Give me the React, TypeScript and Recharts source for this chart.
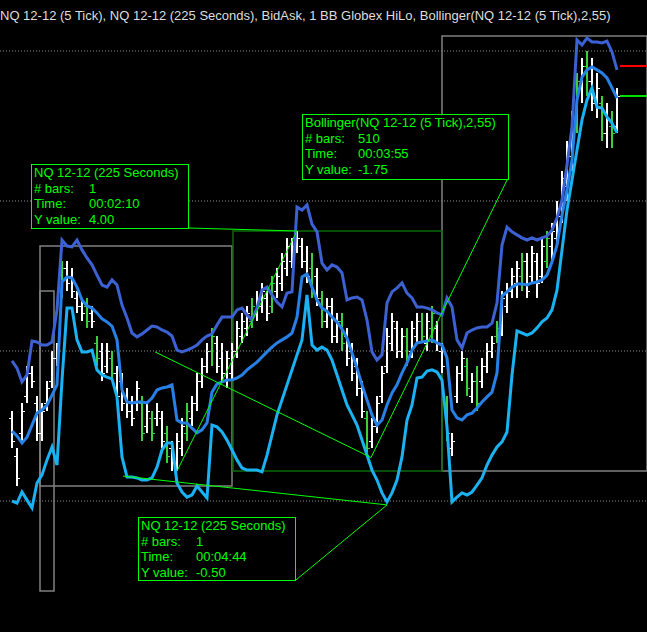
import React from "react";
import { Bar, ComposedChart, Line, ReferenceArea, ReferenceLine, XAxis, YAxis } from "recharts";

const W = 647;
const H = 632;

const TITLE =
  "NQ 12-12 (5 Tick), NQ 12-12 (225 Seconds), BidAsk, 1 BB Globex HiLo, Bollinger(NQ 12-12 (5 Tick),2,55)";

// prices are points above the 2640.00 grid line, one tick = 0.25
const highs = [
  3.0, 1.75, 3.25, 4.5, 4.5, 3.5, 3.25, 4.0, 5.0, 5.25,
  8.0, 8.0, 7.75, 7.0, 6.75, 6.75, 6.5, 5.5, 5.25, 5.25,
  5.0, 4.5, 4.25, 3.75, 3.5, 4.0, 3.5, 3.25, 3.0, 3.25,
  3.0, 2.5, 2.0, 2.25, 2.75, 3.25, 3.5, 4.25, 4.75, 5.25,
  5.75, 5.5, 5.25, 5.0, 5.25, 6.0, 6.25, 6.5, 6.75, 7.0,
  7.25, 7.0, 7.5, 7.75, 8.25, 8.75, 8.75, 9.0, 8.75, 8.5,
  8.25, 7.75, 7.0, 6.75, 6.75, 6.25, 6.25, 5.75, 5.25, 4.75,
  4.0, 3.0, 2.75, 3.5, 4.5, 5.75, 6.25, 6.0, 5.75, 5.75,
  6.0, 6.25, 6.25, 6.25, 6.5, 6.0, 5.25, 3.5, 2.25, 4.5,
  5.0, 4.75, 4.25, 4.5, 4.75, 5.25, 5.5, 6.0, 7.0, 7.25,
  7.75, 8.0, 8.25, 8.25, 8.5, 8.25, 8.75, 9.0, 9.25, 10.0,
  11.0, 12.0, 13.0, 14.25, 14.75, 15.0, 14.75, 14.25, 13.5, 13.25,
  13.0, 13.75,
];
const lows = [
  1.75, 0.5, 2.0, 3.25, 3.75, 2.0, 2.0, 3.0, 3.75, 4.5,
  6.75, 7.0, 6.75, 6.25, 6.0, 5.75, 5.75, 4.5, 4.0, 4.25,
  4.0, 3.25, 3.0, 2.75, 2.5, 3.0, 2.0, 2.25, 2.0, 2.5,
  1.75, 1.25, 1.0, 1.0, 1.5, 2.0, 2.5, 3.0, 3.75, 4.25,
  4.5, 4.25, 4.0, 3.75, 4.0, 4.75, 5.25, 5.5, 5.75, 6.0,
  6.25, 6.0, 6.25, 6.75, 7.0, 7.5, 7.75, 8.25, 7.75, 7.25,
  6.75, 6.5, 5.75, 5.75, 5.25, 5.25, 5.0, 4.5, 4.0, 3.5,
  2.75, 1.5, 1.75, 2.25, 3.25, 4.25, 5.0, 4.75, 4.75, 4.5,
  4.75, 5.25, 5.25, 5.0, 5.25, 5.0, 4.25, 2.0, 1.5, 3.25,
  4.0, 3.5, 3.25, 3.0, 3.75, 4.25, 4.75, 5.25, 5.5, 6.25,
  6.75, 6.75, 7.0, 6.75, 7.25, 6.75, 7.25, 7.75, 8.0, 8.5,
  9.25, 10.0, 11.0, 12.25, 13.25, 13.5, 13.0, 12.75, 12.0, 11.75,
  11.75, 12.25,
];
const opens = [
  2.75, 1.5, 2.25, 3.5, 4.25, 3.25, 2.25, 3.25, 4.0, 4.75,
  7.0, 7.75, 7.5, 6.75, 6.5, 6.5, 6.25, 5.25, 5.0, 4.5,
  4.75, 4.25, 4.0, 3.5, 3.0, 3.25, 3.25, 2.5, 2.75, 2.75,
  2.75, 2.25, 1.75, 1.25, 1.75, 2.25, 2.75, 3.25, 4.0, 4.5,
  5.0, 5.25, 4.75, 4.0, 4.25, 5.0, 5.5, 5.75, 6.0, 6.25,
  6.5, 6.75, 6.5, 7.0, 7.25, 7.75, 8.0, 8.5, 8.5, 8.0,
  7.75, 7.5, 6.75, 6.0, 6.5, 5.5, 6.0, 5.5, 5.0, 4.5,
  3.75, 2.75, 2.0, 2.5, 3.5, 4.5, 5.25, 5.75, 5.0, 5.5,
  5.0, 5.5, 6.0, 5.25, 5.75, 5.75, 5.0, 3.25, 1.75, 3.5,
  4.25, 4.5, 3.5, 4.0, 4.0, 4.5, 5.0, 5.5, 5.75, 6.5,
  7.0, 7.25, 7.5, 8.0, 7.5, 8.0, 7.5, 8.0, 8.5, 8.75,
  9.5, 10.5, 11.5, 12.5, 13.75, 14.5, 14.0, 13.25, 13.25, 12.25,
  12.5, 12.5,
];
const closes = [
  2.0, 0.75, 3.0, 4.25, 4.0, 2.25, 3.0, 3.75, 4.75, 5.0,
  7.75, 7.25, 7.0, 6.5, 6.25, 6.0, 6.0, 4.75, 4.25, 5.0,
  4.25, 3.5, 3.25, 3.0, 2.75, 3.75, 2.25, 3.0, 2.25, 3.0,
  2.0, 1.5, 1.25, 2.0, 2.5, 3.0, 3.25, 4.0, 4.5, 5.0,
  5.5, 4.5, 4.25, 4.75, 5.0, 5.75, 6.0, 6.25, 6.5, 6.75,
  7.0, 6.25, 7.25, 7.5, 8.0, 8.5, 8.5, 8.75, 8.0, 7.5,
  7.0, 6.75, 6.0, 6.5, 5.5, 6.0, 5.25, 4.75, 4.25, 3.75,
  3.0, 1.75, 2.5, 3.25, 4.25, 5.5, 6.0, 5.0, 5.5, 4.75,
  5.75, 6.0, 5.5, 6.0, 6.25, 5.25, 4.5, 2.25, 2.0, 4.25,
  4.75, 3.75, 4.0, 3.25, 4.5, 5.0, 5.25, 5.75, 6.75, 7.0,
  7.5, 7.75, 8.0, 7.0, 8.25, 7.25, 8.5, 8.75, 9.0, 9.75,
  10.75, 11.75, 12.75, 14.0, 14.5, 14.0, 13.25, 13.75, 12.25, 12.75,
  12.25, 13.5,
];
// bars painted by the BidAsk study
const greenBars = [10, 15, 17, 20, 26, 28, 31, 35, 40, 48, 52, 60, 62, 66, 71, 79, 82, 84, 87, 91, 93, 97, 102, 107, 113, 115, 118, 120];

// Bollinger(55, 2) per 5-tick bar
const bbUpper = [
  4.67, 4.43, 3.97, 4.2, 5.33, 5.3, 5.2, 5.2, 5.3, 6.37,
  8.7, 8.5, 8.47, 8.7, 8.37, 8.1, 7.87, 7.53, 7.2, 7.13,
  7.37, 7.2, 6.53, 6.1, 5.6, 5.47, 5.57, 5.7, 5.83, 5.8,
  5.7, 5.63, 5.5, 5.03, 4.97, 5.03, 5.1, 5.2, 5.37, 5.5,
  5.57, 5.87, 6.13, 6.13, 6.13, 6.37, 6.43, 6.2, 6.03, 6.43,
  7.03, 7.13, 6.87, 6.63, 6.47, 6.93, 6.97, 9.8, 9.7, 9.87,
  9.23, 8.97, 7.93, 7.7, 7.87, 7.8, 7.6, 6.7, 6.77, 6.8,
  6.7, 6.03, 4.97, 4.7, 4.87, 6.6, 6.97, 7.1, 7.27, 6.93,
  6.77, 6.47, 6.47, 6.43, 6.37, 6.27, 6.2, 6.77, 6.47, 5.37,
  5.1, 5.6, 5.7, 5.77, 5.8, 5.8, 5.93, 6.6, 8.53, 9.13,
  8.97, 8.87, 8.77, 8.7, 8.77, 8.7, 8.77, 8.83, 9.03, 9.43,
  10.03, 11.2, 12.47, 15.37, 15.2, 15.43, 15.3, 15.3, 15.27, 15.33,
  14.97, 14.37,
];
const bbMiddle = [
  2.33, 2.17, 1.93, 2.13, 2.53, 2.93, 3.03, 3.2, 3.53, 3.87,
  7.3, 7.47, 7.43, 7.13, 6.7, 6.5, 6.43, 6.27, 6.07, 5.97,
  5.83, 5.37, 3.7, 3.3, 3.27, 3.3, 3.3, 3.27, 3.43, 3.7,
  3.77, 3.8, 3.87, 2.7, 2.6, 2.6, 2.43, 2.27, 2.37, 2.6,
  3.63, 3.9, 3.97, 4.03, 4.03, 4.1, 4.2, 4.37, 4.5, 4.63,
  4.8, 4.97, 5.13, 5.27, 5.37, 5.47, 5.6, 6.13, 7.47, 7.57,
  7.13, 6.7, 6.43, 6.33, 6.13, 5.97, 5.73, 5.43, 4.93, 4.43,
  3.87, 3.37, 2.87, 2.53, 2.7, 3.2, 3.6, 3.87, 4.27, 4.6,
  5.03, 5.27, 5.3, 5.33, 5.37, 5.27, 5.2, 4.77, 3.03, 2.77,
  2.7, 2.87, 2.93, 3.1, 3.3, 3.47, 3.63, 4.27, 6.83, 6.97,
  7.13, 7.23, 7.23, 7.2, 7.27, 7.3, 7.37, 7.53, 7.97, 8.53,
  9.53, 10.37, 11.37, 13.37, 14.13, 14.37, 14.47, 14.37, 14.27, 14.1,
  13.77, 13.43,
];
const bbLower = [
  0, -0.07, 0.3, 0.03, -0.23, 0.6, 0.87, 1.37, 1.8, 1.2,
  4.03, 6.43, 6.43, 5.37, 4.97, 4.97, 5.03, 4.37, 4.2, 4.13,
  4.07, 3.47, 1.47, 0.8, 0.8, 0.77, 0.7, 0.7, 0.77, 1.13,
  1.7, 1.93, 1.93, 0.6, 0.3, 0.13, 0.2, 0.5, 0.3, 0.1,
  2.53, 2.47, 2.3, 2.03, 1.7, 1.37, 1.1, 1.03, 1.03, 1.03,
  0.97, 1.53, 2.2, 2.87, 3.37, 3.87, 4.37, 4.87, 5.37, 6.87,
  5.2, 5.03, 5.13, 5.03, 4.7, 4.2, 3.7, 3.2, 2.87, 2.53,
  2.03, 1.53, 1.03, 0.7, 0.27, -0.03, 0.27, 0.7, 1.47, 2.7,
  3.2, 4.1, 4.13, 4.33, 4.37, 4.3, 4.03, 2.47, -0.03, 0.13,
  0.27, 0.2, 0.3, 0.53, 0.77, 1.2, 1.53, 1.8, 1.97, 2.3,
  4.2, 5.67, 5.6, 5.53, 5.6, 5.77, 5.97, 6.1, 6.37, 7.03,
  8.37, 9.7, 10.7, 11.7, 12.7, 13.37, 13.77, 13.13, 13.1, 12.8,
  12.6, 12.27,
];

// 225 second bars, spanning 5-tick bar positions; the highlighted one is drawn last
const secStart = [86, 5.6, 5.6, 44.2];
const secEnd = [127, 8.4, 44, 86];
const secHigh = [15.5, 7, 8.5, 9];
const secLow = [1, -3, 0.5, 1];
const secStroke = ["#808080", "#808080", "#808080", "#0b6a0b"];

const gridLevels = [0, 5, 10, 15];
const globexHigh = 14.5;
const globexLow = 13.5;

// drawing-tool segments: [x1, y1, x2, y2] in bar position / price
const drawLines = [
  [35.2, 9.1, 57, 9.0],
  [57, 9.0, 33, 1.0],
  [28.6, 4.97, 71.8, 1.45],
  [71.8, 1.45, 99.1, 10.73],
  [56.8, -2.63, 75, -0.13],
  [75, -0.13, 22.2, 0.83],
];

const notes = [
  { left: 31, top: 164, width: 158, height: 65, col: 57, title: "NQ 12-12 (225 Seconds)", bars: "1", time: "00:02:10", yv: "4.00" },
  { left: 302, top: 114, width: 207, height: 66, col: 55, title: "Bollinger(NQ 12-12 (5 Tick),2,55)", bars: "510", time: "00:03:55", yv: "-1.75" },
  { left: 138, top: 517, width: 158, height: 64, col: 57, title: "NQ 12-12 (225 Seconds)", bars: "1", time: "00:04:44", yv: "-0.50" },
];

const rows = highs.map((hi, i) => ({
  i,
  hi,
  lo: lows[i],
  open: opens[i],
  close: closes[i],
  green: greenBars.includes(i),
  upper: bbUpper[i],
  middle: bbMiddle[i],
  lower: bbLower[i],
}));

function TickBar(props: any) {
  const { x, y, width, height, payload } = props;
  if (height == null || isNaN(y)) return null;
  const cx = Math.round(x + width / 2);
  const span = payload.hi - payload.lo || 1;
  const at = (v: number) => Math.round(y + ((payload.hi - v) / span) * height) + 0.5;
  const c = payload.green ? "#3ccf3c" : "#ffffff";
  return (
    <g shapeRendering="crispEdges">
      <line x1={cx} x2={cx} y1={y} y2={y + height} stroke={c} strokeWidth={2} />
      <line x1={cx - 3} x2={cx} y1={at(payload.open)} y2={at(payload.open)} stroke={c} strokeWidth={1} />
      <line x1={cx} x2={cx + 3} y1={at(payload.close)} y2={at(payload.close)} stroke={c} strokeWidth={1} />
    </g>
  );
}

const noteText: React.CSSProperties = {
  position: "absolute",
  left: 2,
  whiteSpace: "nowrap",
  lineHeight: "16px",
};

export default function App() {
  return (
    <div
      style={{
        position: "absolute",
        left: 0,
        top: 0,
        width: W,
        height: H,
        background: "#000",
        overflow: "hidden",
        fontFamily: "'Liberation Sans', Arial, sans-serif",
        fontSize: 13,
      }}
    >
      <ComposedChart width={W} height={H} data={rows} margin={{ top: 0, right: 0, bottom: 0, left: 0 }}>
        <XAxis type="number" dataKey="i" domain={[-2.4, 127]} allowDataOverflow hide />
        <YAxis type="number" domain={[-4.3667, 16.7]} allowDataOverflow hide />
        {gridLevels.map((v) => (
          <ReferenceLine key={"g" + v} y={v} stroke="#8c8c8c" strokeDasharray="1 2" strokeWidth={1} />
        ))}
        {secStart.map((s, k) => (
          <ReferenceArea
            key={"s" + k}
            x1={s}
            x2={secEnd[k]}
            y1={secLow[k]}
            y2={secHigh[k]}
            fill="none"
            fillOpacity={0}
            stroke={secStroke[k]}
            strokeWidth={1.5}
            ifOverflow="hidden"
          />
        ))}
        <Bar dataKey={(d: any) => [d.lo, d.hi]} barSize={3} shape={TickBar} isAnimationActive={false} />
        <Line dataKey="lower" type="linear" stroke="#1ab2f2" strokeWidth={3} dot={false} activeDot={false} isAnimationActive={false} />
        <Line dataKey="middle" type="linear" stroke="#2680e6" strokeWidth={3} dot={false} activeDot={false} isAnimationActive={false} />
        <Line dataKey="upper" type="linear" stroke="#3b61d2" strokeWidth={3} dot={false} activeDot={false} isAnimationActive={false} />
        {drawLines.map((s, k) => (
          <ReferenceLine
            key={"d" + k}
            segment={[
              { x: s[0], y: s[1] },
              { x: s[2], y: s[3] },
            ]}
            stroke="#00ff00"
            strokeWidth={1}
            ifOverflow="visible"
          />
        ))}
        <ReferenceLine segment={[{ x: 121.6, y: globexHigh }, { x: 127, y: globexHigh }]} stroke="#ff0000" strokeWidth={2} ifOverflow="visible" />
        <ReferenceLine segment={[{ x: 121.6, y: globexLow }, { x: 127, y: globexLow }]} stroke="#00e000" strokeWidth={2} ifOverflow="visible" />
      </ComposedChart>

      <div style={{ position: "absolute", left: 0, top: 8, color: "#dedede", whiteSpace: "nowrap", lineHeight: "16px" }}>
        {TITLE}
      </div>

      {notes.map((n, k) => (
        <div
          key={k}
          style={{
            position: "absolute",
            left: n.left,
            top: n.top,
            width: n.width,
            height: n.height,
            boxSizing: "border-box",
            border: "1px solid #00ff00",
            background: "#000",
            color: "#00ff00",
          }}
        >
          <div style={{ ...noteText, top: 0 }}>{n.title}</div>
          <div style={{ ...noteText, top: 16 }}># bars:</div>
          <div style={{ ...noteText, top: 16, left: n.col }}>{n.bars}</div>
          <div style={{ ...noteText, top: 31 }}>Time:</div>
          <div style={{ ...noteText, top: 31, left: n.col }}>{n.time}</div>
          <div style={{ ...noteText, top: 47 }}>Y value:</div>
          <div style={{ ...noteText, top: 47, left: n.col }}>{n.yv}</div>
        </div>
      ))}
    </div>
  );
}
